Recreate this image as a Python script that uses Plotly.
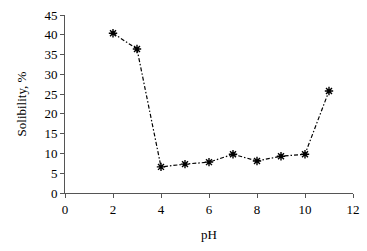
import plotly.graph_objects as go

ph = [2, 3, 4, 5, 6, 7, 8, 9, 10, 11]
solubility = [40.4, 36.4, 6.6, 7.3, 7.8, 9.8, 8.1, 9.3, 9.8, 25.8]
x_ticks = [0, 2, 4, 6, 8, 10, 12]
y_ticks = [0, 5, 10, 15, 20, 25, 30, 35, 40, 45]

fig = go.Figure(go.Scatter(
    x=ph, y=solubility, mode="lines+markers",
    line=dict(color="black", width=1.2, dash="4px,2px,1.5px,2px"),
    marker=dict(symbol="asterisk-open", size=7, color="black",
                line=dict(color="black", width=1.4)),
))

font = dict(family="Liberation Serif", size=13, color="black")
fig.update_layout(
    width=367, height=251,
    margin=dict(l=65, r=7, t=15, b=58),
    paper_bgcolor="white", plot_bgcolor="white",
    showlegend=False,
    font=font,
    xaxis=dict(range=[0, 12], tickvals=x_ticks, showgrid=False, zeroline=False,
               showline=True, linecolor="#555", linewidth=1,
               ticks="outside", ticklen=4, tickcolor="#555",
               title=dict(text="pH", font=font, standoff=14)),
    yaxis=dict(range=[0, 45], tickvals=y_ticks, showgrid=False, zeroline=False,
               showline=True, linecolor="#555", linewidth=1,
               ticks="outside", ticklen=4, tickcolor="#555",
               title=dict(text="Solibility, %", font=font, standoff=14)),
)
fig.write_html("out.html")
